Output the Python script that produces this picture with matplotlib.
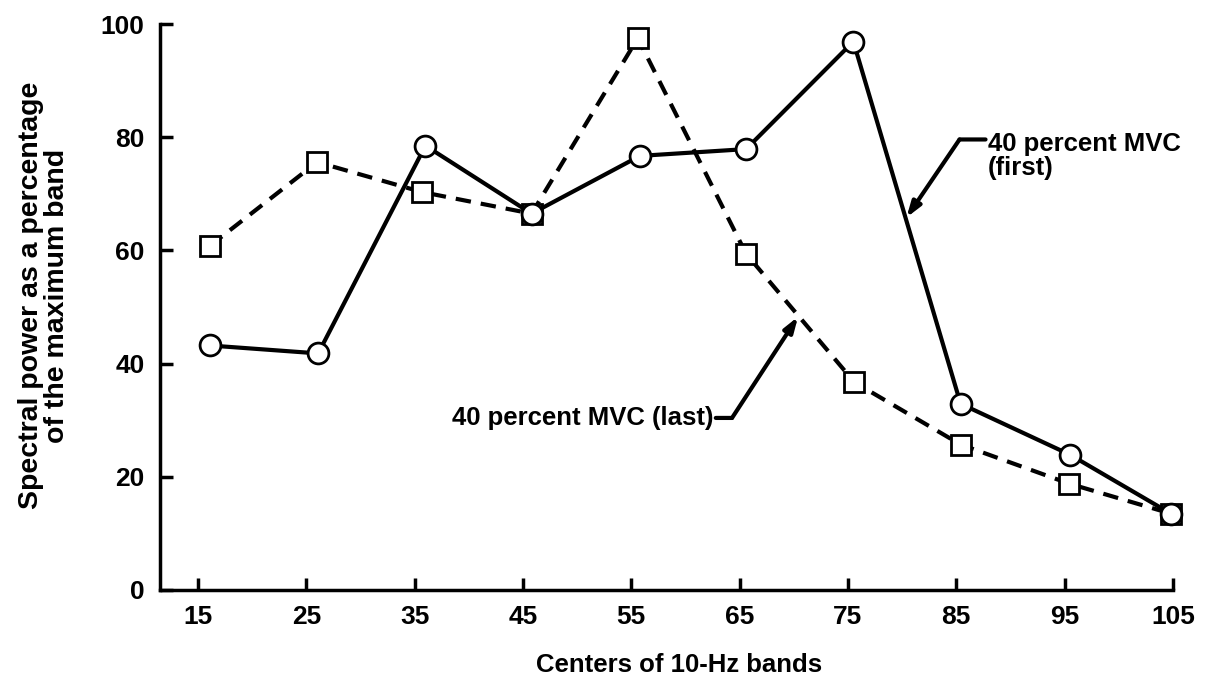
import numpy as np
from matplotlib import pyplot as plt

plt.rcParams['font.family'] = ['Liberation Sans', 'DejaVu Sans']
plt.rcParams['font.weight'] = 'bold'
plt.rcParams['axes.labelweight'] = 'bold'

# band centers as plotted (points sit a little right of the tick marks)
x_first = [16.1, 26.1, 36.0, 45.8, 55.8, 65.6, 75.5, 85.4, 95.5, 104.8]
y_first = [43.2, 41.8, 78.5, 66.5, 76.7, 77.9, 96.9, 32.9, 23.9, 13.5]

x_last = [16.1, 26.0, 35.7, 45.8, 55.6, 65.6, 75.6, 85.4, 95.4, 104.8]
y_last = [60.8, 75.6, 70.3, 66.5, 97.5, 59.4, 36.7, 25.7, 18.8, 13.5]

xticks = [15, 25, 35, 45, 55, 65, 75, 85, 95, 105]
yticks = [0, 20, 40, 60, 80, 100]

fig = plt.figure(figsize=(12.05, 6.82), dpi=100)
ax = fig.add_axes([0.1328, 0.1349, 0.8406, 0.8299])

ax.plot(x_last, y_last, color='black', lw=3, dashes=(3.7, 2.4),
        marker='s', markersize=15, markerfacecolor='white',
        markeredgecolor='black', markeredgewidth=2, clip_on=False, zorder=3)
ax.plot(x_first, y_first, color='black', lw=3,
        marker='o', markersize=15, markerfacecolor='white',
        markeredgecolor='black', markeredgewidth=2, clip_on=False, zorder=4)

ax.set_xlim(11.5, 105)
ax.set_ylim(0, 100)
ax.set_xticks(xticks)
ax.set_yticks(yticks)
ax.tick_params(direction='in', length=9, width=2.5, labelsize=19, pad=11)

for s in ['top', 'right']:
    ax.spines[s].set_visible(False)
for s in ['left', 'bottom']:
    ax.spines[s].set_linewidth(2.5)

ax.set_xlabel('Centers of 10-Hz bands', fontsize=18.5, labelpad=17)
ax.xaxis.label.set_x(0.512)
ax.set_ylabel('Spectral power as a percentage\nof the maximum band',
              fontsize=20.5, labelpad=22, linespacing=1.0)
ax.yaxis.label.set_y(0.52)

# labels with leader arrows
ax.text(87.9, 81.0, '40 percent MVC\n(first)', fontsize=18.5, ha='left', va='top',
        linespacing=1.0)
ax.annotate('', xy=(85.3, 79.6), xytext=(87.7, 79.6),
            arrowprops=dict(arrowstyle='-', lw=3, color='black',
                            shrinkA=0, shrinkB=0))
ax.annotate('', xy=(80.4, 65.8), xytext=(85.3, 79.6),
            arrowprops=dict(arrowstyle='-|>,head_length=0.9,head_width=0.3',
                            lw=3, color='black', shrinkA=0, shrinkB=0))

ax.text(62.6, 30.4, '40 percent MVC (last)', fontsize=18.5, ha='right', va='center')
ax.annotate('', xy=(64.3, 30.4), xytext=(62.8, 30.4),
            arrowprops=dict(arrowstyle='-', lw=3, color='black',
                            shrinkA=0, shrinkB=0))
ax.annotate('', xy=(70.4, 48.3), xytext=(64.3, 30.4),
            arrowprops=dict(arrowstyle='-|>,head_length=0.9,head_width=0.3',
                            lw=3, color='black', shrinkA=0, shrinkB=0))

plt.savefig('out.png', dpi=100)
